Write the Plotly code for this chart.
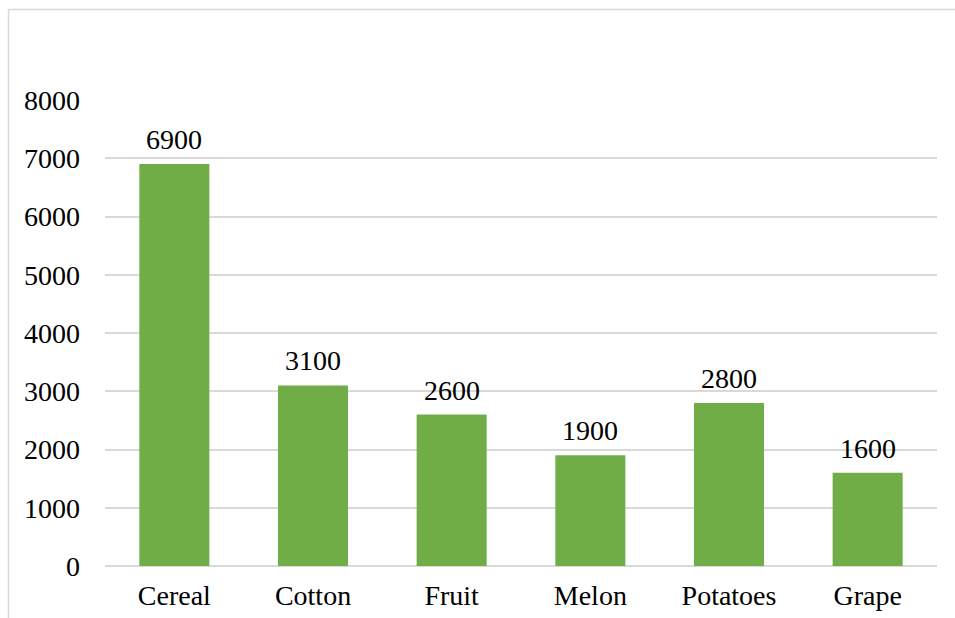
import plotly.graph_objects as go

categories = ["Cereal", "Cotton", "Fruit", "Melon", "Potatoes", "Grape"]
values = [6900, 3100, 2600, 1900, 2800, 1600]
y_ticks = [0, 1000, 2000, 3000, 4000, 5000, 6000, 7000, 8000]

W, H = 955, 618
ml, mr, mt, mb = 105, 18, 100, 52
pw, ph = W - ml - mr, H - mt - mb
FONT = "Liberation Serif, Times New Roman, serif"

def px_x(x):
    return (x - ml) / pw

def px_y(y):
    return (H - mb - y) / ph

fig = go.Figure(go.Bar(
    x=categories, y=values,
    marker=dict(color="#70AD47", line=dict(width=0)),
    cliponaxis=False, width=0.505,
))

for c, v in zip(categories, values):
    fig.add_annotation(x=c, y=v, text=str(v), showarrow=False,
                       yanchor="bottom", yshift=7,
                       font=dict(family=FONT, size=28, color="#000000"))

fig.update_layout(
    width=W, height=H,
    margin=dict(l=ml, r=mr, t=mt, b=mb),
    paper_bgcolor="white", plot_bgcolor="white",
    font=dict(family=FONT, size=28, color="#000000"),
    showlegend=False,
    xaxis=dict(showgrid=False, showline=False, ticks="", ticklabelstandoff=10,
               automargin=False),
    yaxis=dict(range=[0, 8000], tickvals=y_ticks, showgrid=True,
               gridcolor="#d9d9d9", gridwidth=1.5, zeroline=True,
               zerolinecolor="#d9d9d9", zerolinewidth=1.5, ticks="",
               ticklabelstandoff=24, automargin=False),
    shapes=[
        dict(type="line", xref="paper", yref="paper", x0=px_x(8.5), x1=px_x(8.5),
             y0=px_y(9), y1=px_y(H + 5), line=dict(color="#d9d9d9", width=1.5)),
        dict(type="line", xref="paper", yref="paper", x0=px_x(8.5), x1=px_x(W + 5),
             y0=px_y(9.5), y1=px_y(9.5), line=dict(color="#d9d9d9", width=1.5)),
    ],
)

fig.write_html("out.html")
